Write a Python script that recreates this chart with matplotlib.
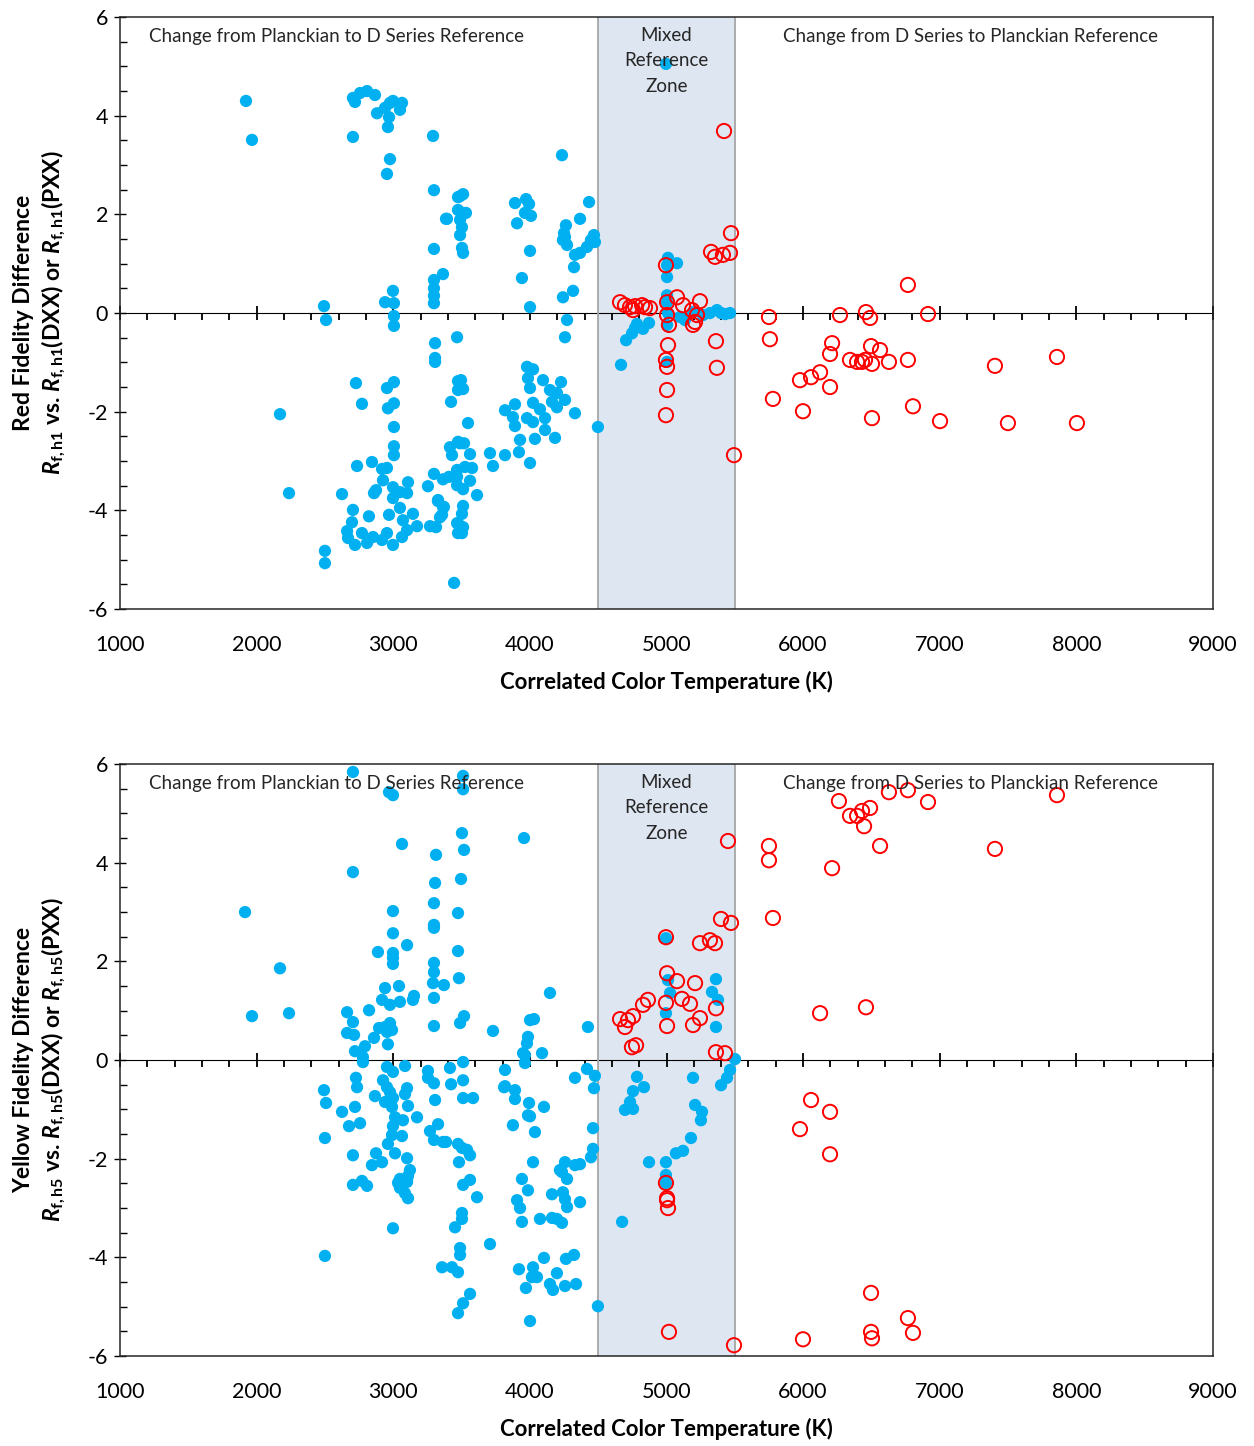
import matplotlib
matplotlib.use('Agg')
import matplotlib.pyplot as plt
from matplotlib.ticker import MultipleLocator

plt.rcParams['font.family'] = ['Lato', 'DejaVu Sans']
plt.rcParams['mathtext.fontset'] = 'custom'
plt.rcParams['mathtext.rm'] = 'Lato:bold'
plt.rcParams['mathtext.it'] = 'Lato:italic:bold'
plt.rcParams['mathtext.bf'] = 'Lato:bold'
plt.rcParams['axes.unicode_minus'] = False

BLUE = '#00B0F0'
RED = '#FF0000'

# ---- top panel: red fidelity (hue bin 1) ----
top_p_cct = [1922, 1966, 2705, 2705, 2720, 2757, 2808, 2866, 2881, 2940, 2976, 2998, 3064, 3049,
             2969, 2961, 2976, 2954, 3291, 3298, 3386, 3474, 3298, 3364, 3298, 3298, 3298, 3298,
             2998, 2940, 3005, 2493, 2508, 3005, 3005, 3306, 3306, 3306, 3467, 2727, 2954, 3005,
             2771, 2961, 3005, 3005, 3005, 3005, 2171, 2237, 2735, 2844, 2918, 2954, 2925, 2874,
             2859, 2625, 2705, 2822, 2698, 2662, 2669, 2720, 2808, 2852, 2771, 2998, 3049, 3108,
             3101, 2998, 3049, 2969, 3144, 3174, 3071, 2954, 2998, 3064, 3101, 2918, 2500, 2500,
             3254, 3298, 3364, 3327, 3364, 3342, 3269, 3313, 3445, 3423, 3415, 3430, 3474, 3474,
             3474, 3467, 3474, 3474, 3496, 3511, 3547, 3489, 3518, 3562, 3708, 3730, 3818, 3920,
             4001, 3928, 4037, 4184, 3891, 3876, 3818, 3891, 3979, 4023, 4111, 4111, 4074, 4023,
             3986, 4001, 3979, 4023, 4096, 4147, 4198, 4162, 4198, 4228, 4257, 4330, 4498, 3408,
             3467, 3525, 3577, 3562, 3511, 3467, 3613, 3328, 3371, 3357, 3511, 3503, 3467, 3511,
             3503, 4235, 3489, 3511, 3474, 3503, 3532, 3489, 3503, 3489, 3503, 3511, 3393, 3891,
             3972, 3994, 3964, 4008, 3906, 4001, 3942, 4001, 4433, 4367, 4264, 4250, 4242, 4272,
             4257, 4330, 4367, 4418, 4447, 4469, 4476, 4323, 4316, 4242, 4272, 4257, 4667, 4704,
             4748, 4770, 4828, 4872, 4784, 5011, 5077, 5004, 5004, 5004, 5004, 5011, 5004, 5004,
             5135, 5194, 5267, 5318, 5369, 5400, 5430, 5465, 5099, 4996]
top_p_diff = [4.30, 3.51, 3.57, 4.36, 4.28, 4.46, 4.50, 4.42, 4.05, 4.16, 4.26, 4.30, 4.26, 4.12,
              3.97, 3.77, 3.12, 2.82, 3.59, 2.49, 1.91, 2.35, 1.30, 0.79, 0.67, 0.50, 0.35, 0.20,
              0.45, 0.22, 0.20, 0.14, -0.14, -0.06, -0.26, -0.61, -0.91, -0.99, -0.49, -1.42, -1.52, -1.40,
              -1.84, -1.93, -1.83, -2.31, -2.70, -2.88, -2.05, -3.65, -3.10, -3.02, -3.16, -3.14, -3.39, -3.59,
              -3.65, -3.67, -3.99, -4.12, -4.24, -4.42, -4.56, -4.70, -4.66, -4.54, -4.46, -3.53, -3.63, -3.43,
              -3.65, -3.75, -3.95, -4.09, -4.07, -4.32, -4.20, -4.46, -4.70, -4.54, -4.40, -4.60, -4.82, -5.07,
              -3.51, -3.26, -3.37, -3.81, -3.93, -4.14, -4.32, -4.34, -5.47, -1.80, -2.72, -2.88, -1.38, -1.56,
              -2.61, -3.32, -4.26, -4.46, -1.36, -1.54, -2.23, -2.64, -2.64, -2.86, -2.84, -3.10, -2.88, -2.82,
              -3.04, -2.57, -2.55, -2.53, -2.29, -2.11, -1.97, -1.85, -2.13, -2.21, -2.37, -2.13, -1.95, -1.82,
              -1.32, -1.52, -1.09, -1.14, -1.36, -1.56, -1.62, -1.80, -1.91, -1.40, -1.76, -2.03, -2.31, -3.32,
              -3.18, -3.12, -3.14, -3.40, -3.57, -3.49, -3.69, -3.79, -3.93, -4.09, -3.91, -4.07, -4.26, -4.34,
              -4.46, 3.20, 2.37, 2.41, 2.09, 2.03, 2.03, 1.89, 1.74, 1.58, 1.32, 1.22, 1.91, 2.23,
              2.31, 2.21, 2.03, 1.97, 1.82, 1.26, 0.71, 0.12, 2.25, 1.91, 1.78, 1.62, 1.48, 1.38,
              1.54, 1.18, 1.22, 1.34, 1.48, 1.58, 1.44, 0.93, 0.45, 0.32, -0.14, -0.49, -1.05, -0.55,
              -0.41, -0.30, -0.32, -0.20, -0.22, 1.12, 1.01, 0.97, 0.73, 0.36, 0.22, 0.00, -0.24, -0.99,
              -0.14, 0.02, -0.04, 0.00, 0.06, 0.00, -0.02, 0.00, -0.08, 5.05]

top_d_cct = [4660, 4696, 4733, 4770, 4755, 4821, 4843, 4879, 5004, 5077, 5121, 5187, 5245, 5223,
             5209, 5194, 4996, 5004, 5018, 5011, 4996, 5004, 5004, 4996, 5326, 5355, 5413, 5465,
             5472, 5362, 5369, 5494, 5421, 5750, 5757, 5779, 5977, 6058, 6124, 6197, 6197, 6212,
             6270, 5999, 6343, 6395, 6431, 6453, 6460, 6490, 6504, 6497, 6563, 6504, 6628, 6767,
             6767, 6804, 6914, 7002, 7404, 7499, 7858, 8004]
top_d_diff = [0.22, 0.16, 0.12, 0.14, 0.06, 0.16, 0.12, 0.10, 0.22, 0.32, 0.16, 0.06, 0.24, -0.04,
              -0.18, -0.24, 0.97, -0.04, -0.24, -0.65, -0.95, -1.09, -1.56, -2.07, 1.24, 1.14, 1.18, 1.22,
              1.62, -0.57, -1.11, -2.88, 3.69, -0.08, -0.53, -1.74, -1.36, -1.30, -1.20, -1.50, -0.83, -0.61,
              -0.04, -1.99, -0.95, -0.99, -0.99, -0.95, 0.02, -0.10, -1.03, -0.67, -0.75, -2.13, -0.99, 0.57,
              -0.95, -1.89, -0.02, -2.19, -1.07, -2.23, -0.89, -2.23]

# ---- bottom panel: yellow fidelity (hue bin 5) ----
bot_p_cct = [2705, 2969, 2998, 3511, 3511, 3957, 3064, 3503, 3518, 3313, 3496, 3306, 2705, 3298,
             3474, 1915, 2998, 3298, 3298, 2998, 3101, 2888, 3474, 2998, 2998, 2998, 3298, 3298,
             2171, 3481, 3371, 3291, 2940, 3042, 3298, 3152, 3144, 3049, 2918, 2976, 2823, 2662,
             2237, 1966, 2705, 2662, 2713, 2896, 2940, 2976, 2954, 2991, 2961, 2859, 2793, 2720,
             2778, 3298, 3489, 3518, 3730, 3979, 3986, 3950, 4001, 4147, 4030, 4089, 4425, 3964,
             4996, 5011, 5026, 4996, 5362, 5333, 5377, 5362, 5501, 4996, 4996, 4996, 4872, 4675,
             4784, 4755, 4835, 4733, 4696, 4755, 5194, 5209, 5260, 5252, 5179, 5121, 5069, 5465,
             5443, 5399, 3818, 3818, 3891, 3891, 3994, 4001, 4103, 3876, 4037, 4330, 4418, 4476,
             4469, 4462, 4462, 4447, 4023, 4257, 4367, 4330, 4235, 4272, 3942, 3986, 4162, 4242,
             4257, 4272, 4367, 3906, 3928, 3942, 4074, 4162, 4198, 4235, 4498, 4001, 3920, 4023,
             4015, 4052, 4103, 4198, 4264, 4323, 4147, 4169, 4257, 4338, 3971, 4220, 2778, 2954,
             2998, 3086, 3254, 3415, 3511, 3964, 2727, 2735, 2493, 2508, 2625, 2720, 2676, 2757,
             2500, 2866, 2925, 2954, 2976, 2940, 2998, 3101, 3086, 3108, 2991, 3013, 3071, 3174,
             2998, 2991, 3064, 2961, 3013, 3101, 2705, 2874, 2918, 2844, 3122, 3108, 3049, 3101,
             3035, 3049, 3086, 3108, 2705, 2771, 2808, 2998, 2500, 3254, 3298, 3423, 3511, 3511,
             3584, 3306, 3269, 3328, 3298, 3364, 3386, 3474, 3503, 3540, 3562, 3481, 3562, 3511,
             3613, 3503, 3503, 3452, 3489, 3489, 3708, 3357, 3430, 3474, 3562, 3511, 3474, 3811,
             3986]
bot_p_diff = [5.84, 5.43, 5.37, 5.76, 5.49, 4.50, 4.38, 4.60, 4.26, 4.16, 3.67, 3.59, 3.81, 3.18,
              2.98, 3.00, 3.02, 2.74, 2.68, 2.57, 2.33, 2.19, 2.21, 2.17, 2.07, 1.95, 1.97, 1.78,
              1.86, 1.66, 1.52, 1.56, 1.46, 1.50, 1.26, 1.30, 1.22, 1.18, 1.22, 1.12, 1.01, 0.97,
              0.95, 0.89, 0.77, 0.55, 0.51, 0.65, 0.67, 0.75, 0.57, 0.61, 0.32, 0.45, 0.28, 0.18,
              0.06, 0.69, 0.75, 0.89, 0.59, 0.34, 0.47, 0.14, 0.81, 1.36, 0.83, 0.14, 0.67, 0.10,
              2.47, 1.62, 1.36, 0.95, 1.64, 1.38, 1.22, 0.67, 0.02, -2.07, -2.33, -2.49, -2.07, -3.28,
              -0.34, -0.63, -0.55, -0.85, -1.01, -0.99, -0.36, -0.91, -1.05, -1.22, -1.58, -1.84, -1.89, -0.20,
              -0.36, -0.51, -0.20, -0.53, -0.61, -0.79, -0.87, -1.14, -0.95, -1.32, -1.46, -0.36, -0.18, -0.32,
              -0.57, -1.38, -1.80, -1.97, -2.07, -2.07, -2.11, -2.13, -2.27, -2.41, -2.41, -2.64, -2.72, -2.68,
              -2.82, -2.98, -2.88, -2.84, -3.00, -3.28, -3.22, -3.20, -3.22, -3.30, -4.99, -5.29, -4.24, -4.20,
              -4.40, -4.40, -4.01, -4.32, -4.03, -3.95, -4.54, -4.66, -4.58, -4.54, -4.62, -2.23, -0.04, -0.14,
              -0.24, -0.12, -0.22, -0.16, -0.04, -0.06, -0.36, -0.55, -0.61, -0.87, -1.05, -0.95, -1.34, -1.28,
              -1.58, -0.73, -0.41, -0.55, -0.65, -0.85, -0.77, -0.57, -0.69, -0.93, -0.95, -1.16, -1.22, -1.16,
              -1.34, -1.52, -1.54, -1.70, -1.89, -1.99, -1.93, -1.89, -2.07, -2.13, -2.23, -2.35, -2.41, -2.47,
              -2.49, -2.59, -2.70, -2.80, -2.53, -2.45, -2.55, -3.41, -3.97, -0.36, -0.47, -0.49, -0.41, -0.77,
              -0.77, -0.81, -1.44, -1.30, -1.62, -1.66, -1.66, -1.70, -1.78, -1.82, -1.93, -2.07, -2.43, -2.53,
              -2.78, -3.10, -3.22, -3.39, -3.81, -3.95, -3.73, -4.20, -4.20, -4.30, -4.74, -4.93, -5.13, -0.55,
              -1.12]

bot_d_cct = [5450, 5399, 5472, 4996, 5245, 5318, 5355, 5004, 5077, 5209, 5113, 5172, 4996, 4864,
             4828, 4755, 4718, 4660, 4696, 5245, 5194, 5004, 5362, 4747, 4777, 5362, 5428, 5750,
             5750, 5779, 6262, 6343, 6395, 6431, 6446, 6490, 6563, 6628, 6767, 6914, 7404, 7858,
             6212, 6460, 6124, 6058, 6197, 5977, 6197, 6497, 6767, 6804, 6497, 6504, 5999, 5018,
             5494, 4996, 5004, 5004, 5011]
bot_d_diff = [4.44, 2.86, 2.78, 2.49, 2.37, 2.43, 2.37, 1.76, 1.60, 1.56, 1.24, 1.14, 1.16, 1.22,
              1.12, 0.89, 0.81, 0.83, 0.67, 0.85, 0.71, 0.69, 1.05, 0.26, 0.30, 0.16, 0.14, 4.34,
              4.05, 2.88, 5.25, 4.95, 4.95, 5.05, 4.74, 5.11, 4.34, 5.43, 5.47, 5.23, 4.28, 5.37,
              3.89, 1.07, 0.95, -0.81, -1.05, -1.40, -1.91, -4.72, -5.23, -5.53, -5.51, -5.64, -5.66, -5.51,
              -5.78, -2.49, -2.80, -2.84, -3.00]

x_ticks = [1000, 2000, 3000, 4000, 5000, 6000, 7000, 8000, 9000]
y_ticks = [-6, -4, -2, 0, 2, 4, 6]


def draw_panel(ax, p_x, p_y, d_x, d_y, ylabel):
    ax.axvspan(4500, 5500, color='#DEE6F1', zorder=0, lw=0)
    ax.axvline(4500, color='#A6A6A6', lw=1.3, zorder=1)
    ax.axvline(5500, color='#A6A6A6', lw=1.3, zorder=1)

    ax.scatter(p_x, p_y, s=78, color=BLUE, edgecolors='none', zorder=3)
    ax.scatter(d_x, d_y, s=105, facecolors='none', edgecolors=RED, linewidths=1.4, zorder=4)

    ax.set_xlim(1000, 9000)
    ax.set_ylim(-6, 6)
    ax.set_xticks(x_ticks)
    ax.set_yticks(y_ticks)
    ax.yaxis.set_minor_locator(MultipleLocator(0.5))
    ax.tick_params(axis='x', which='both', length=0, labelsize=15.5, pad=19)
    ax.tick_params(axis='y', which='major', direction='inout', length=9, width=1, labelsize=15.5, pad=4)
    ax.tick_params(axis='y', which='minor', direction='in', length=5, width=1)
    for sp in ax.spines.values():
        sp.set_color('#262626')
        sp.set_linewidth(1.1)

    # zero line with its own ticks, no labels
    zero_ax = ax.secondary_xaxis(0.5)
    zero_ax.set_xticks(x_ticks, labels=[''] * len(x_ticks))
    zero_ax.xaxis.set_minor_locator(MultipleLocator(200))
    zero_ax.tick_params(which='major', direction='inout', length=10, width=1.3)
    zero_ax.tick_params(which='minor', direction='in', length=5, width=1.3)
    zero_ax.spines['bottom'].set_linewidth(1.6)
    zero_ax.spines['bottom'].set_color('#1a1a1a')

    ax.text(2581, 5.6, 'Change from Planckian to D Series Reference', fontsize=13.5,
            ha='center', va='center', color='#262626', zorder=5)
    ax.text(5000, 5.11, 'Mixed\nReference\nZone', fontsize=13.5, ha='center', va='center',
            color='#262626', linespacing=1.6, zorder=5)
    ax.text(7222, 5.6, 'Change from D Series to Planckian Reference', fontsize=13.5,
            ha='center', va='center', color='#262626', zorder=5)

    ax.set_xlabel('Correlated Color Temperature (K)', fontsize=16, fontweight='bold', labelpad=11)
    ax.set_ylabel(ylabel, fontsize=16.5, fontweight='bold', labelpad=14, linespacing=1.3)


fig = plt.figure(figsize=(12.54, 14.46), dpi=100)
ax1 = fig.add_axes([0.0957, 0.5788, 0.8716, 0.4094])
ax2 = fig.add_axes([0.0957, 0.0622, 0.8716, 0.4094])

draw_panel(ax1, top_p_cct, top_p_diff, top_d_cct, top_d_diff,
           'Red Fidelity Difference\n'
           r'$R_{\mathrm{f,h1}}$ vs. $R_{\mathrm{f,h1}}$(DXX) or $R_{\mathrm{f,h1}}$(PXX)')
draw_panel(ax2, bot_p_cct, bot_p_diff, bot_d_cct, bot_d_diff,
           'Yellow Fidelity Difference\n'
           r'$R_{\mathrm{f,h5}}$ vs. $R_{\mathrm{f,h5}}$(DXX) or $R_{\mathrm{f,h5}}$(PXX)')

fig.savefig('out.png', dpi=100)
